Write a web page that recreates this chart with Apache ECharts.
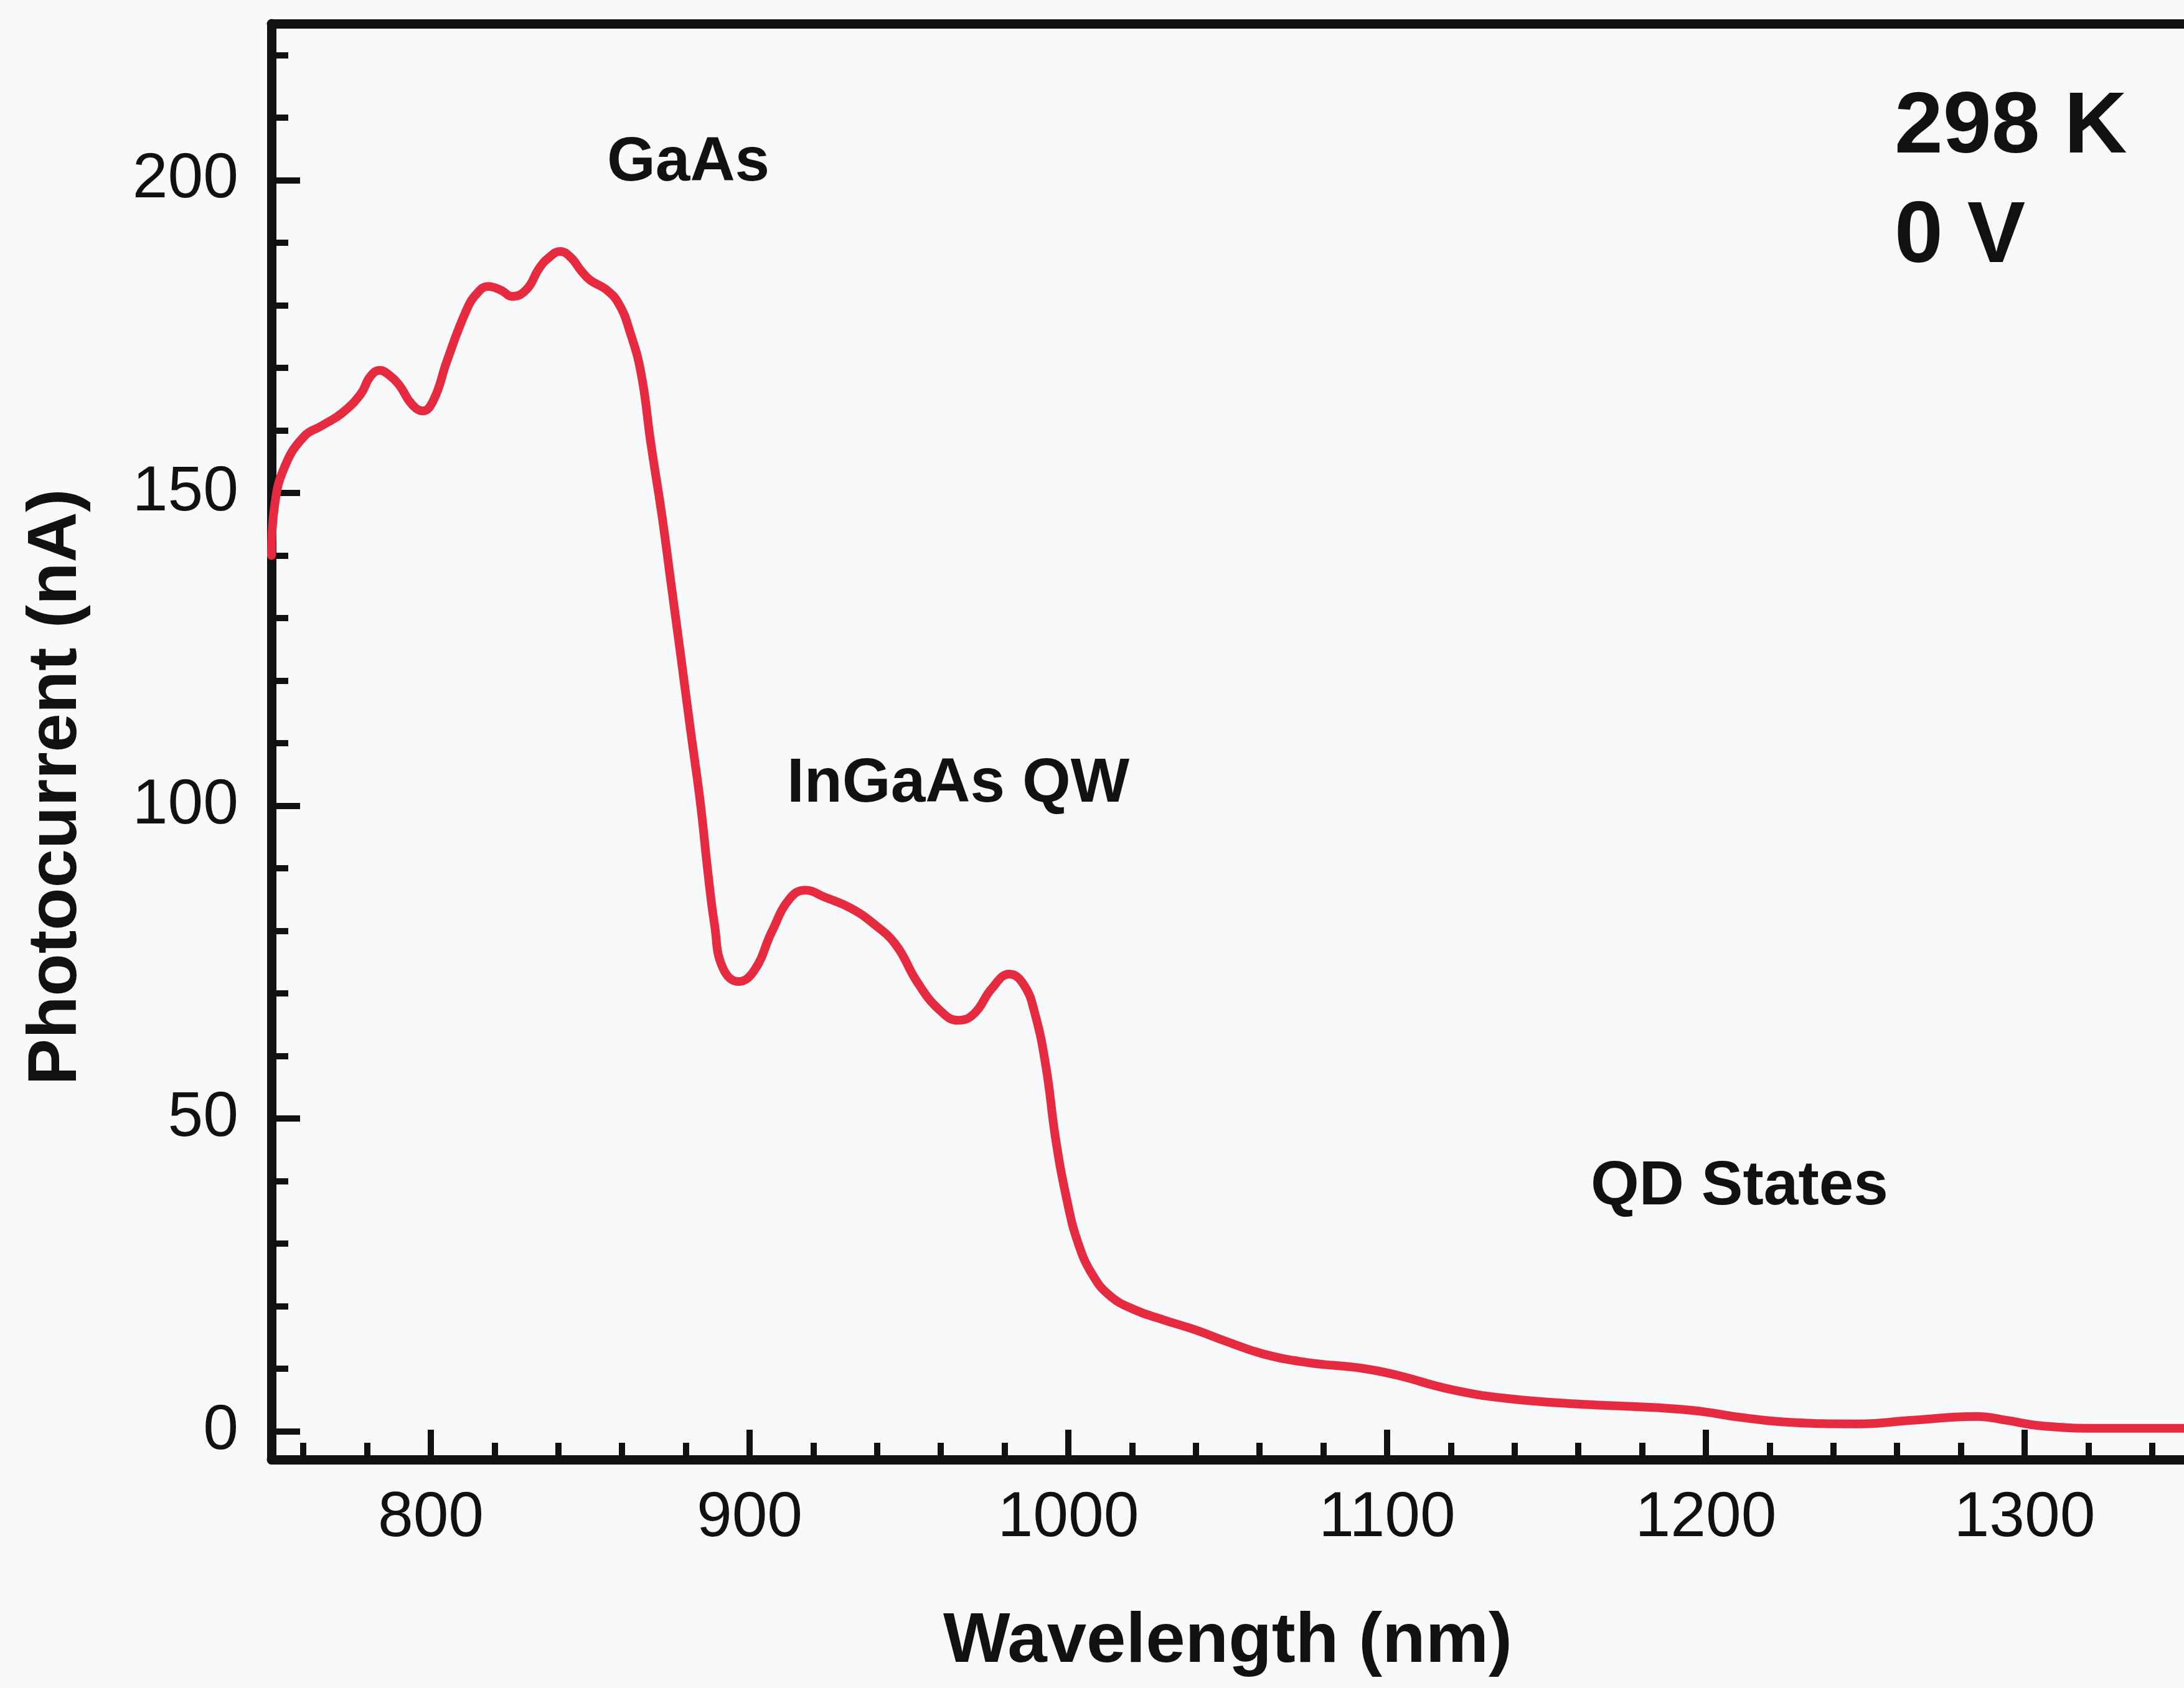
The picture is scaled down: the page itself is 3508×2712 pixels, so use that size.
<!DOCTYPE html>
<html>
<head>
<meta charset="utf-8">
<script src="https://cdn.jsdelivr.net/npm/echarts@6/dist/echarts.min.js"></script>
<style>
html,body{margin:0;padding:0;background:#f8f9fb;}
#chart{width:3508px;height:2712px;}
</style>
</head>
<body>
<div id="chart"></div>
<script>
// ---- data ----
const wavelength = [750, 751, 754, 760, 766, 772, 778, 781, 784, 787, 790, 794, 797.5, 801, 805, 811, 814.5, 818, 822, 825.5, 830, 834, 837, 840.5, 844, 847, 850, 855, 859, 862.5, 866, 869, 872.5, 875.5, 878.5, 881.5, 884.5, 887, 889, 891.5, 896.5, 901.5, 907, 912.5, 917.5, 923.5, 931.5, 939, 946, 952.5, 959.5, 965.5, 970.5, 976, 981.5, 986, 989.5, 993, 996, 999.5, 1003, 1007.5, 1013, 1020.5, 1030, 1040, 1050, 1061, 1075, 1092, 1103, 1120, 1137, 1159, 1176, 1190, 1200, 1210, 1225, 1248, 1265, 1285, 1294, 1305, 1325, 1350];
const photocurrent = [140, 148, 154, 158.9, 160.8, 162.7, 165.8, 168.6, 169.6, 168.8, 167.3, 164.2, 163.1, 165, 171, 179, 181.9, 183.0, 182.4, 181.4, 182.5, 185.9, 187.6, 188.6, 187.6, 185.6, 184, 182.5, 180.2, 175.7, 169, 158, 146.4, 135, 123.6, 112, 100.7, 89, 81, 74.2, 71.9, 73.7, 79.9, 85.1, 86.5, 85.4, 83.7, 81.1, 77.7, 71.9, 67.4, 65.7, 66.8, 70.8, 73.1, 71.4, 66.8, 58.2, 46.8, 37.1, 30.2, 25.1, 21.7, 19.5, 17.8, 16.2, 14.3, 12.4, 11.0, 10.1, 9.0, 6.7, 5.3, 4.4, 4.0, 3.6, 3.1, 2.3, 1.5, 1.2, 1.8, 2.4, 1.8, 0.9, 0.5, 0.5];

const xMajorTicks = [800, 900, 1000, 1100, 1200, 1300];
const xMinorTicks = [760, 780, 820, 840, 860, 880, 920, 940, 960, 980, 1020, 1040, 1060, 1080, 1120, 1140, 1160, 1180, 1220, 1240, 1260, 1280, 1320, 1340];
const yMajorTicks = [0, 50, 100, 150, 200];
const yMinorTicks = [10, 20, 30, 40, 60, 70, 80, 90, 110, 120, 130, 140, 160, 170, 180, 190, 210, 220];

const xTitle = 'Wavelength (nm)';
const yTitle = 'Photocurrent (nA)';
const annotationTexts = ['GaAs', 'InGaAs QW', 'QD States', '298 K', '0 V'];

// ---- chart ----
const INK = '#111111';
const FONT = '"Liberation Sans", Arial, sans-serif';
const X_MIN = 750, X_MAX = 1350, Y_MIN = -4.5, Y_MAX = 225;

const seriesData = wavelength.map((w, i) => [w, photocurrent[i]]);
const plain = v => String(v);

const annPos = [
  {x: 975, y: 262, size: 100},
  {x: 1264, y: 1260, size: 100},
  {x: 2555, y: 1907, size: 100},
  {x: 3043, y: 206, size: 140},
  {x: 3043, y: 382, size: 140}
];

const chart = echarts.init(document.getElementById('chart'), null, {renderer: 'canvas'});
chart.setOption({
  backgroundColor: '#f8f9fb',
  animation: false,
  grid: {left: 436, right: -20.5, top: 38, bottom: 367, containLabel: false},
  xAxis: [
    {
      type: 'value', min: X_MIN, max: X_MAX, position: 'bottom',
      name: xTitle, nameLocation: 'middle', nameGap: 237,
      nameTextStyle: {fontFamily: FONT, fontWeight: 'bold', fontSize: 114, color: INK},
      axisLine: {show: true, onZero: false, lineStyle: {color: INK, width: 15}},
      axisTick: {show: true, inside: true, length: 48, customValues: xMajorTicks, lineStyle: {color: INK, width: 10}},
      axisLabel: {show: true, customValues: xMajorTicks, formatter: plain, margin: 44, fontFamily: FONT, fontSize: 102, color: INK},
      splitLine: {show: false}
    },
    {
      type: 'value', min: X_MIN, max: X_MAX, position: 'bottom', offset: 0,
      axisLine: {show: false, onZero: false},
      axisTick: {show: true, inside: true, length: 27, customValues: xMinorTicks, lineStyle: {color: INK, width: 10}},
      axisLabel: {show: false},
      splitLine: {show: false}
    },
    {
      type: 'value', min: X_MIN, max: X_MAX, position: 'top', offset: 0,
      axisLine: {show: true, onZero: false, lineStyle: {color: INK, width: 15}},
      axisTick: {show: false},
      axisLabel: {show: false},
      splitLine: {show: false}
    }
  ],
  yAxis: [
    {
      type: 'value', min: Y_MIN, max: Y_MAX, position: 'left',
      name: yTitle, nameLocation: 'middle', nameGap: 289,
      nameTextStyle: {fontFamily: FONT, fontWeight: 'bold', fontSize: 112, color: INK, padding: [0, 146, 0, 0]},
      axisLine: {show: true, onZero: false, lineStyle: {color: INK, width: 15}},
      axisTick: {show: true, inside: true, length: 46, customValues: yMajorTicks, lineStyle: {color: INK, width: 10}},
      axisLabel: {show: true, customValues: yMajorTicks, formatter: plain, margin: 53, fontFamily: FONT, fontSize: 102, color: INK},
      splitLine: {show: false}
    },
    {
      type: 'value', min: Y_MIN, max: Y_MAX, position: 'left', offset: 0,
      axisLine: {show: false, onZero: false},
      axisTick: {show: true, inside: true, length: 27, customValues: yMinorTicks, lineStyle: {color: INK, width: 10}},
      axisLabel: {show: false},
      splitLine: {show: false}
    }
  ],
  series: [{
    type: 'line',
    xAxisIndex: 0, yAxisIndex: 0,
    data: seriesData,
    smooth: 0.45,
    showSymbol: false,
    symbol: 'none',
    lineStyle: {color: '#e62a40', width: 14, cap: 'round', join: 'round'},
    z: 1
  }],
  graphic: annotationTexts.map((t, i) => ({
    type: 'text',
    x: annPos[i].x,
    y: annPos[i].y,
    z: 10,
    style: {
      text: t,
      fill: INK,
      font: 'bold ' + annPos[i].size + 'px ' + FONT,
      align: 'left', verticalAlign: 'middle',
      textAlign: 'left', textVerticalAlign: 'middle'
    }
  }))
});
</script>
</body>
</html>
